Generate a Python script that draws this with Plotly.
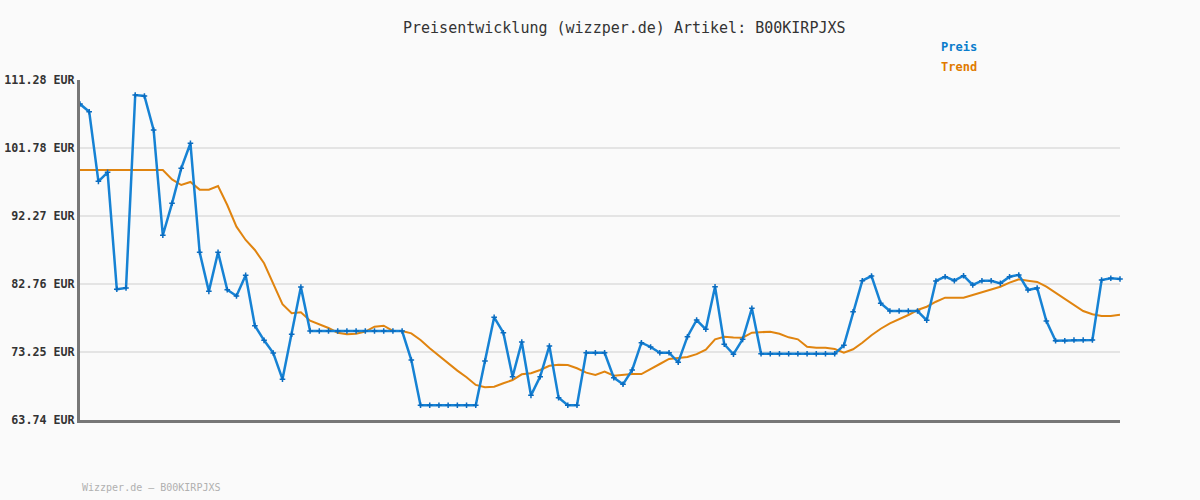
import plotly.graph_objects as go

price = [107.92, 106.85, 97.11, 98.37, 82.02, 82.20, 109.18, 109.04, 104.29, 89.57,
         94.04, 98.93, 102.43, 87.19, 81.73, 87.19, 81.96, 81.08, 83.97, 76.93,
         74.88, 73.10, 69.45, 75.72, 82.32, 76.18, 76.18, 76.18, 76.18, 76.18,
         76.18, 76.18, 76.18, 76.18, 76.18, 76.18, 72.13, 65.80, 65.80, 65.80,
         65.80, 65.80, 65.80, 65.80, 71.99, 78.10, 75.95, 69.80, 74.65, 67.19,
         69.80, 74.09, 66.86, 65.80, 65.80, 73.15, 73.15, 73.15, 69.66, 68.73,
         70.73, 74.55, 73.95, 73.15, 73.15, 71.81, 75.39, 77.72, 76.42, 82.38,
         74.33, 72.93, 75.02, 79.36, 73.00, 73.00, 73.00, 73.00, 73.00, 73.00,
         73.00, 73.00, 73.00, 74.18, 78.88, 83.22, 83.87, 80.06, 78.98, 78.98,
         78.98, 78.98, 77.68, 83.18, 83.78, 83.22, 83.92, 82.62, 83.22, 83.22,
         82.85, 83.78, 84.02, 81.92, 82.20, 77.58, 74.83, 74.83, 74.93, 74.93,
         74.93, 83.32, 83.55, 83.46]

trend = [98.70, 98.70, 98.70, 98.70, 98.70, 98.70, 98.70, 98.70, 98.70, 98.70,
         97.39, 96.60, 97.02, 95.95, 95.95, 96.46, 93.80, 90.77, 88.91, 87.51,
         85.65, 82.85, 79.94, 78.66, 78.80, 77.63, 77.12, 76.60, 75.95, 75.72,
         75.81, 76.09, 76.79, 76.93, 76.20, 76.18, 75.86, 74.93, 73.77, 72.69,
         71.67, 70.64, 69.71, 68.64, 68.31, 68.40, 68.87, 69.33, 70.13, 70.27,
         70.73, 71.33, 71.47, 71.42, 70.97, 70.36, 70.03, 70.50, 69.94, 70.08,
         70.17, 70.17, 70.83, 71.57, 72.27, 72.37, 72.55, 72.95, 73.58, 75.02,
         75.39, 75.28, 75.25, 75.95, 76.00, 76.09, 75.80, 75.30, 75.02, 73.99,
         73.85, 73.85, 73.67, 73.15, 73.63, 74.55, 75.60, 76.50, 77.26, 77.82,
         78.42, 79.12, 79.58, 80.28, 80.84, 80.84, 80.84, 81.22, 81.64, 82.01,
         82.38, 82.94, 83.41, 83.22, 83.04, 82.38, 81.54, 80.66, 79.82, 78.98,
         78.52, 78.28, 78.28, 78.47]

tick_vals = [63.74, 73.25, 82.76, 92.27, 101.78, 111.28]
tick_text = ["63.74 EUR", "73.25 EUR", "82.76 EUR", "92.27 EUR", "101.78 EUR", "111.28 EUR"]

title_text = "Preisentwicklung (wizzper.de) Artikel: B00KIRPJXS"
footer_text = "Wizzper.de – B00KIRPJXS"
legend_names = ["Preis", "Trend"]

x = list(range(len(price)))

BLUE = "#1682d4"
ORANGE = "#e0840f"
MONO = "DejaVu Sans Mono, Liberation Mono, monospace"

fig = go.Figure()
fig.add_trace(go.Scatter(
    x=x, y=trend, mode="lines", name=legend_names[1],
    line=dict(color=ORANGE, width=2), cliponaxis=False, hoverinfo="skip"))
fig.add_trace(go.Scatter(
    x=x, y=price, mode="lines+markers", name=legend_names[0],
    line=dict(color=BLUE, width=2.5),
    marker=dict(symbol="cross-thin", size=4, line=dict(color="#0a6cc0", width=1.5)),
    cliponaxis=False))

fig.update_layout(
    width=1200, height=500,
    margin=dict(l=80, r=80, t=80, b=80),
    paper_bgcolor="#fafafa", plot_bgcolor="#fafafa",
    showlegend=False,
    font=dict(family=MONO, color="#333333"),
    xaxis=dict(range=[0, len(price) - 1], showgrid=False, zeroline=False,
               showticklabels=False, ticks="", showline=True, automargin=False,
               linecolor="#777777", linewidth=3),
    yaxis=dict(range=[tick_vals[0], tick_vals[-1]], tickvals=tick_vals, ticktext=tick_text,
               showgrid=True, gridcolor="#e4e4e4", gridwidth=2, zeroline=False,
               ticks="", showline=True, linecolor="#777777", linewidth=3, automargin=False,
               tickfont=dict(family=MONO, size=11.7, color="#333333", weight="bold"),
               ticklabelstandoff=0),
    annotations=[
        dict(text=title_text, xref="paper", yref="paper", x=(624 - 80) / 1040,
             y=1 + (80 - 28) / 340, xanchor="center", yanchor="middle", showarrow=False,
             font=dict(family=MONO, size=15, color="#333333")),
        dict(text="<b>" + legend_names[0] + "</b>", xref="paper", yref="paper",
             x=(939 - 80) / 1040, y=1 + (80 - 47) / 340, xanchor="left", yanchor="middle",
             showarrow=False, font=dict(family=MONO, size=12, color="#0a7ccc")),
        dict(text="<b>" + legend_names[1] + "</b>", xref="paper", yref="paper",
             x=(939 - 80) / 1040, y=1 + (80 - 67) / 340, xanchor="left", yanchor="middle",
             showarrow=False, font=dict(family=MONO, size=12, color="#e07a00")),
        dict(text=footer_text, xref="paper", yref="paper", x=0,
             y=-(487 - 420) / 340, xanchor="left", yanchor="middle", showarrow=False,
             font=dict(family=MONO, size=10, color="#b0b0b0")),
    ],
)

fig.write_html("out.html")
